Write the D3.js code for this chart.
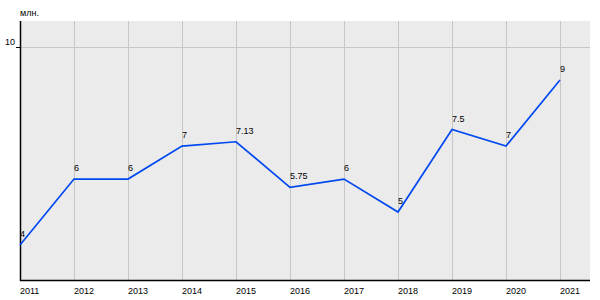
<!DOCTYPE html>
<html>
<head>
<meta charset="utf-8">
<script src="https://cdn.jsdelivr.net/npm/d3@7"></script>
<style>
  body { margin: 0; background: #fff; }
  text { font-family: "Liberation Sans", Arial, sans-serif; fill: #000; }
</style>
</head>
<body>
<svg id="chart" width="600" height="300"></svg>
<script>
// data
const years = ['2011', '2012', '2013', '2014', '2015', '2016', '2017', '2018', '2019', '2020', '2021'];
const values = [4, 6, 6, 7, 7.13, 5.75, 6, 5, 7.5, 7, 9];
const valueLabels = ['4', '6', '6', '7', '7.13', '5.75', '6', '5', '7.5', '7', '9'];
const yTicks = [10];
const unitLabel = 'млн.';

const svg = d3.select('#chart');
const plotL = 20, plotR = 590, plotT = 21, plotB = 280;

const x = d3.scalePoint().domain(years).range([plotL, 560]);
const y = d3.scaleLinear().domain([2.94, 10.79]).range([plotB, plotT]);

// plot background
svg.append('rect')
  .attr('x', plotL).attr('y', plotT)
  .attr('width', plotR - plotL).attr('height', plotB - plotT)
  .attr('fill', '#ebebeb');

// vertical grid
svg.append('g')
  .selectAll('line')
  .data(years.slice(1))
  .join('line')
  .attr('x1', d => x(d) + 0.5).attr('x2', d => x(d) + 0.5)
  .attr('y1', plotT).attr('y2', plotB)
  .attr('stroke', '#c6c6c6')
  .attr('stroke-width', 1);

// horizontal grid
svg.append('g')
  .selectAll('line')
  .data(yTicks)
  .join('line')
  .attr('x1', plotL).attr('x2', plotR)
  .attr('y1', d => Math.round(y(d)) + 0.5).attr('y2', d => Math.round(y(d)) + 0.5)
  .attr('stroke', '#c6c6c6')
  .attr('stroke-width', 1);

// y ticks and labels
svg.append('g')
  .selectAll('line')
  .data(yTicks)
  .join('line')
  .attr('x1', plotL - 4).attr('x2', plotL)
  .attr('y1', d => Math.round(y(d)) + 0.5).attr('y2', d => Math.round(y(d)) + 0.5)
  .attr('stroke', '#000');

svg.append('g')
  .selectAll('text')
  .data(yTicks)
  .join('text')
  .attr('x', plotL - 5)
  .attr('y', d => y(d) - 2)
  .attr('text-anchor', 'end')
  .style('font-size', '9px')
  .text(d => d);

svg.append('text')
  .attr('x', plotL)
  .attr('y', 16)
  .style('font-size', '9px')
  .text(unitLabel);

// axes lines
svg.append('line')
  .attr('x1', plotL + 0.5).attr('x2', plotL + 0.5)
  .attr('y1', plotT).attr('y2', plotB + 1)
  .attr('stroke', '#000').attr('stroke-width', 1.5);

svg.append('line')
  .attr('x1', plotL).attr('x2', plotR)
  .attr('y1', plotB + 0.5).attr('y2', plotB + 0.5)
  .attr('stroke', '#000').attr('stroke-width', 1.5);

// x labels
svg.append('g')
  .selectAll('text')
  .data(years)
  .join('text')
  .attr('x', d => x(d))
  .attr('y', 294)
  .attr('text-anchor', 'start')
  .style('font-size', '9px')
  .text(d => d);

// line
const pts = years.map((yr, i) => ({ year: yr, value: values[i], label: valueLabels[i] }));

svg.append('path')
  .datum(pts)
  .attr('d', d3.line().x(d => x(d.year)).y(d => y(d.value)))
  .attr('fill', 'none')
  .attr('stroke', '#0048f0')
  .attr('stroke-width', 1.7);

// value labels
svg.append('g')
  .selectAll('text')
  .data(pts)
  .join('text')
  .attr('x', d => x(d.year))
  .attr('y', d => y(d.value) - 8)
  .attr('text-anchor', 'start')
  .style('font-size', '9px')
  .text(d => d.label);
</script>
</body>
</html>
